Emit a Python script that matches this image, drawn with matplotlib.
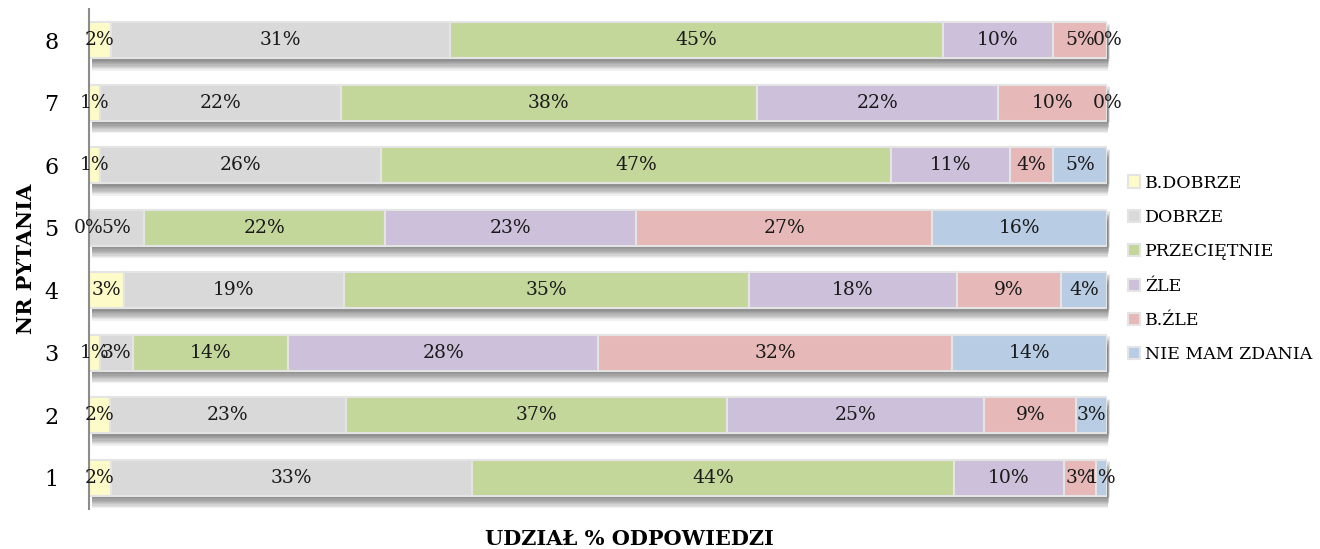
import matplotlib.pyplot as plt
import numpy as np

plt.rcParams['font.family'] = ['DejaVu Serif']

questions = ['1', '2', '3', '4', '5', '6', '7', '8']
categories = ['B.DOBRZE', 'DOBRZE', 'PRZECIĘTNIE', 'ŹLE', 'B.ŹLE', 'NIE MAM ZDANIA']
colors = ['#fdfcc8', '#d9d9d9', '#c4d79b', '#ccc0da', '#e6b9b8', '#b8cce4']

# answer shares per question (%), rows = questions 1..8
b_dobrze = [2, 2, 1, 3, 0, 1, 1, 2]
dobrze = [33, 23, 3, 19, 5, 26, 22, 31]
przecietnie = [44, 37, 14, 35, 22, 47, 38, 45]
zle = [10, 25, 28, 18, 23, 11, 22, 10]
b_zle = [3, 9, 32, 9, 27, 4, 10, 5]
nie_mam = [1, 3, 14, 4, 16, 5, 0, 0]

values = np.array([b_dobrze, dobrze, przecietnie, zle, b_zle, nie_mam], dtype=float)
shares = values / values.sum(axis=0) * 100  # 100% stacked

fig = plt.figure(figsize=(13.2, 5.49), dpi=100)
ax = fig.add_axes([0.0674, 0.0729, 0.7715, 0.9107])

y = np.arange(1, len(questions) + 1)
h = 0.575

# soft shadow under each bar
for k, d in enumerate(np.linspace(0.02, 0.2, 10)):
    ax.barh(y - d, 100 - 0.02 * k, left=0.25, height=h, color='black', alpha=0.06,
            lw=0, zorder=1, clip_on=False)

left = np.zeros(len(questions))
for i, cat in enumerate(categories):
    bars = ax.barh(y, shares[i], left=left, height=h, color=colors[i],
                   edgecolor='#e4e4e4', linewidth=1.5, label=cat, zorder=2)
    for j in range(len(questions)):
        ax.text(left[j] + shares[i][j] / 2, y[j], '%d%%' % values[i][j],
                ha='center', va='center', fontsize=13.5, color='#1a1a1a', zorder=3)
    left += shares[i]

ax.set_xlim(0, 100)
ax.set_ylim(0.5, 8.5)
ax.set_yticks(y)
ax.set_yticklabels(questions, fontsize=16)
ax.set_xticks([])
ax.tick_params(axis='y', length=0, pad=22)
for s in ['top', 'right', 'bottom']:
    ax.spines[s].set_visible(False)
ax.spines['left'].set_color('#8c8c8c')
ax.spines['left'].set_linewidth(1.5)

ax.set_ylabel('NR PYTANIA', fontsize=15, fontweight='bold', labelpad=6)
ax.set_xlabel('UDZIAŁ % ODPOWIEDZI', fontsize=15, fontweight='bold')
ax.xaxis.set_label_coords(0.531, -0.04)
ax.xaxis.label.set_va('top')

ax.legend(loc='center left', bbox_to_anchor=(1.005, 0.48), frameon=False,
          fontsize=12.5, handlelength=0.7, handleheight=0.7, handletextpad=0.3,
          labelspacing=1.0)

plt.savefig('out.png', dpi=100)
